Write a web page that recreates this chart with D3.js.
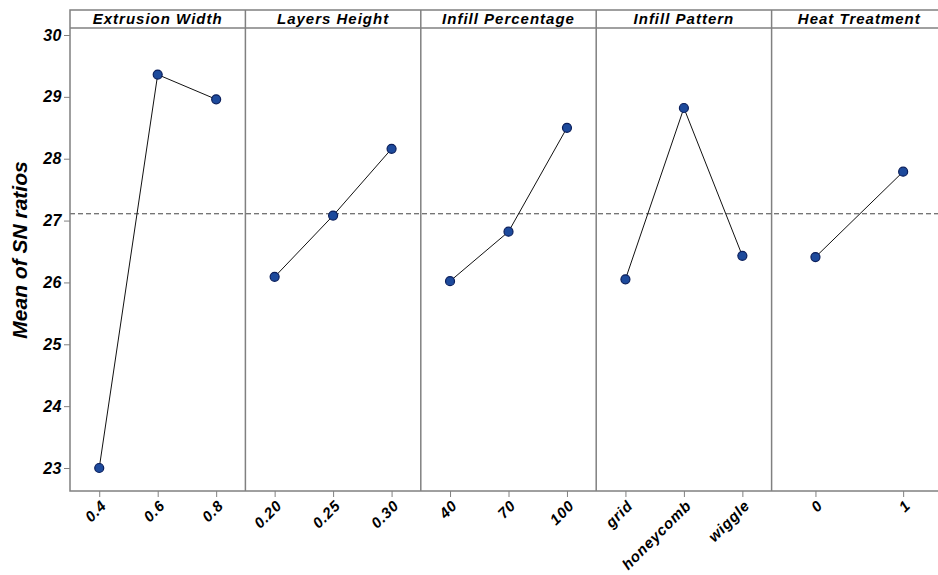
<!DOCTYPE html>
<html>
<head>
<meta charset="utf-8">
<script src="https://cdn.jsdelivr.net/npm/d3@7"></script>
<style>
  body { margin: 0; background: #fff; }
  svg { display: block; font-family: 'Liberation Sans', Arial, sans-serif; }
  .lbl { font-weight: bold; font-style: italic; fill: #000; }
</style>
</head>
<body>
<div id="chart"></div>
<script>
// Factor names and their levels
const factors = ['Extrusion Width', 'Layers Height', 'Infill Percentage', 'Infill Pattern', 'Heat Treatment'];
const levels = [
  ['0.4', '0.6', '0.8'],
  ['0.20', '0.25', '0.30'],
  ['40', '70', '100'],
  ['grid', 'honeycomb', 'wiggle'],
  ['0', '1']
];
// Mean of SN ratios for each level
const snMeans = [
  [23.00, 29.36, 28.96],
  [26.09, 27.08, 28.16],
  [26.02, 26.82, 28.50],
  [26.05, 28.82, 26.43],
  [26.41, 27.79]
];
const grandMean = 27.11;
const yTicks = [23, 24, 25, 26, 27, 28, 29, 30];

const width = 938, height = 575;
const margin = {left: 70, right: 947, top: 10, bottom: 491};
const headerH = 18;

const svg = d3.select('#chart').append('svg')
    .attr('width', width)
    .attr('height', height);

const y = d3.scaleLinear().domain([23, 30]).range([468, 35]);

// one band per factor
const panel = d3.scaleBand().domain(factors).range([margin.left, margin.right]);

const frameColor = '#808080';

// y axis
const yAxis = svg.append('g')
    .attr('transform', 'translate(' + margin.left + ',0)')
    .call(d3.axisLeft(y).tickValues(yTicks).tickSize(6).tickPadding(2).tickFormat(d3.format('d')));
yAxis.select('.domain').remove();
yAxis.selectAll('line').attr('stroke', frameColor);
yAxis.selectAll('text')
    .attr('class', 'lbl')
    .style('font-size', '16px')
    .style('letter-spacing', '0.5px');

// grand mean reference line
svg.append('line')
    .attr('x1', margin.left).attr('x2', margin.right)
    .attr('y1', y(grandMean)).attr('y2', y(grandMean))
    .attr('stroke', '#444')
    .attr('stroke-width', 1)
    .attr('stroke-dasharray', '5,3');

factors.forEach(function(f, i) {
  const x0 = panel(f);
  const bw = panel.bandwidth();
  const x = d3.scalePoint().domain(levels[i]).range([x0, x0 + bw]).padding(0.5);

  // panel divider
  if (i > 0) {
    svg.append('line')
        .attr('x1', x0).attr('x2', x0)
        .attr('y1', margin.top).attr('y2', margin.bottom)
        .attr('stroke', frameColor)
        .attr('stroke-width', 1.5);
  }

  // header label
  svg.append('text')
      .attr('class', 'lbl')
      .attr('x', x0 + bw / 2)
      .attr('y', margin.top + 14)
      .attr('text-anchor', 'middle')
      .style('font-size', '15px')
      .style('letter-spacing', '1px')
      .text(f);

  // x axis for this panel
  const xAxis = svg.append('g')
      .attr('transform', 'translate(0,' + margin.bottom + ')')
      .call(d3.axisBottom(x).tickSize(6).tickPadding(4));
  xAxis.select('.domain').remove();
  xAxis.selectAll('line').attr('stroke', frameColor);
  xAxis.selectAll('text')
      .attr('class', 'lbl')
      .style('font-size', '15px')
      .style('letter-spacing', '0.7px')
      .attr('text-anchor', 'end')
      .attr('x', 0)
      .attr('y', 0)
      .attr('dy', '0.35em')
      .attr('transform', 'translate(4,12) rotate(-45)');

  const pts = levels[i].map((lv, j) => ({lv: lv, v: snMeans[i][j]}));

  const line = d3.line()
      .x(d => x(d.lv))
      .y(d => y(d.v));

  svg.append('path')
      .attr('d', line(pts))
      .attr('fill', 'none')
      .attr('stroke', '#111')
      .attr('stroke-width', 1);

  svg.append('g').selectAll('circle')
      .data(pts)
      .enter().append('circle')
      .attr('cx', d => x(d.lv))
      .attr('cy', d => y(d.v))
      .attr('r', 4.5)
      .attr('fill', '#1d4a9c')
      .attr('stroke', '#0b1f5c')
      .attr('stroke-width', 1.2);
});

// outer frame and header strip
svg.append('rect')
    .attr('x', margin.left).attr('y', margin.top)
    .attr('width', margin.right - margin.left).attr('height', margin.bottom - margin.top)
    .attr('fill', 'none')
    .attr('stroke', frameColor)
    .attr('stroke-width', 1.5);
svg.append('line')
    .attr('x1', margin.left).attr('x2', margin.right)
    .attr('y1', margin.top + headerH).attr('y2', margin.top + headerH)
    .attr('stroke', frameColor)
    .attr('stroke-width', 1.5);

// y axis title
svg.append('text')
    .attr('class', 'lbl')
    .attr('transform', 'translate(27,250) rotate(-90)')
    .attr('text-anchor', 'middle')
    .style('font-size', '21px')
    .text('Mean of SN ratios');
</script>
</body>
</html>
